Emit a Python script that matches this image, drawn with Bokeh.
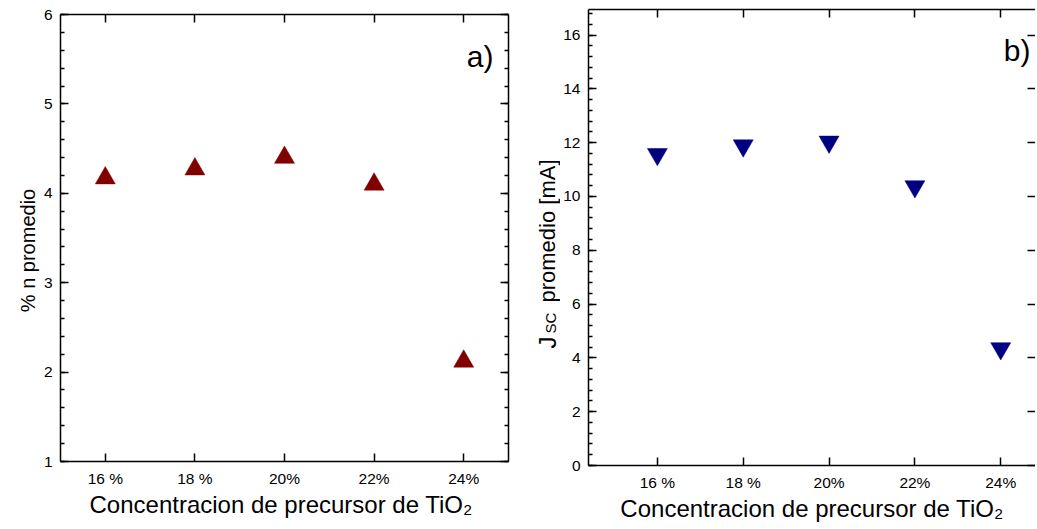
import math
from bokeh.plotting import figure
from bokeh.layouts import row
from bokeh.models import (LinearAxis, FixedTicker, SingleIntervalTicker, Label, Range1d,
                          CustomLabelingPolicy)
from bokeh.core.properties import value
from bokeh.embed import file_html
from bokeh.resources import INLINE

# ---- data ----
conc_x = [16, 18, 20, 22, 24]
conc_labels = ["16 %", "18 %", "20%", "22%", "24%"]
eficiencia = [4.17, 4.27, 4.40, 4.10, 2.12]        # % n promedio
jsc = [11.57, 11.89, 12.03, 10.37, 4.35]           # Jsc promedio [mA]

FONT = "Liberation Sans"
H = 527


def frame_axes(p, y_interval, right_line=True, right_minor=True):
    xt = FixedTicker(ticks=conc_x, minor_ticks=[])
    yt = SingleIntervalTicker(interval=y_interval, num_minor_ticks=5)
    overrides = {x: l for x, l in zip(conc_x, conc_labels)}

    xb = LinearAxis(ticker=xt, major_label_overrides=overrides)
    yl = LinearAxis(ticker=yt)
    xa = LinearAxis(ticker=xt)
    yr = LinearAxis(ticker=yt)
    for ax in (xb, yl, xa, yr):
        ax.axis_line_width = 1.5
        ax.axis_line_color = "black"
        ax.major_tick_line_width = 1.5
        ax.minor_tick_line_width = 1.5
        ax.major_tick_in = 8
        ax.major_tick_out = 0
        ax.minor_tick_in = 4
        ax.minor_tick_out = 0
        ax.major_label_text_font = FONT
        ax.major_label_text_font_size = "15.5px"
        ax.major_label_text_color = "black"
        ax.axis_label_text_font = FONT
        ax.axis_label_text_font_style = "normal"
        ax.axis_label_text_color = "black"
    for ax in (xa, yr):
        ax.major_label_text_font_size = "0px"
        ax.major_label_policy = CustomLabelingPolicy(code="return []")
        ax.major_label_standoff = 0
    if not right_line:
        yr.axis_line_color = None
    if not right_minor:
        yr.minor_tick_in = 0
        yr.minor_tick_line_color = None
    xb.major_label_standoff = 8
    yl.major_label_standoff = 8
    xb.axis_label_text_font_size = "24px"
    xb.axis_label_standoff = 1
    p.add_layout(xb, "below")
    p.add_layout(yl, "left")
    p.add_layout(xa, "above")
    p.add_layout(yr, "right")
    return xb


def label_strip(width):
    s = figure(width=width, height=H, output_backend="svg", toolbar_location=None,
               x_range=Range1d(0, width), y_range=Range1d(0, H),
               x_axis_location=None, y_axis_location=None, min_border=0,
               frame_align=False)
    s.outline_line_color = None
    s.xgrid.visible = False
    s.ygrid.visible = False
    return s


# ---- y label strip for panel a ----
s1 = label_strip(40)
s1.text(x=[27.6], y=[H - 250], text=["% n promedio"], angle=math.pi / 2,
        text_align="center", text_baseline="alphabetic",
        text_font=value(FONT), text_font_size=value("20px"), text_color="black")

# ---- panel a ----
p1 = figure(width=480, height=H, output_backend="svg", toolbar_location=None,
            x_range=Range1d(15, 25), y_range=Range1d(1, 6),
            x_axis_type=None, y_axis_type=None, frame_align=False,
            min_border_left=20, min_border_right=12, min_border_top=14, min_border_bottom=H - 461)
p1.outline_line_color = None
p1.xgrid.visible = False
p1.ygrid.visible = False
xb1 = frame_axes(p1, 1)
xb1.axis_label = "Concentracion de  precursor de TiO\u2082"
p1.scatter(conc_x, eficiencia, marker="triangle", size=20,
           fill_color="#800000", line_color="#800000", line_width=0.5)
p1.add_layout(Label(x=24.07, y=5.53, text="a)", text_align="left",
                    text_baseline="alphabetic", text_font=FONT,
                    text_font_size="30px", text_color="black"))

# ---- y label strip for panel b ----
s2 = label_strip(40)
s2.text(x=[27], y=[H - 348], text=["J"], angle=math.pi / 2,
        text_align="left", text_baseline="alphabetic",
        text_font=value(FONT), text_font_size=value("24px"), text_color="black")
s2.text(x=[30], y=[H - 333], text=["SC"], angle=math.pi / 2,
        text_align="left", text_baseline="alphabetic",
        text_font=value(FONT), text_font_size=value("15px"), text_color="black")
s2.text(x=[26.5], y=[H - 302], text=["promedio [mA]"], angle=math.pi / 2,
        text_align="left", text_baseline="alphabetic",
        text_font=value(FONT), text_font_size=value("22px"), text_color="black")

# ---- panel b ----
p2 = figure(width=475, height=H, output_backend="svg", toolbar_location=None,
            x_range=Range1d(14.395, 24.81), y_range=Range1d(0, 16.95),
            x_axis_type=None, y_axis_type=None, frame_align=False,
            min_border_left=27, min_border_right=0, min_border_top=9, min_border_bottom=H - 465)
p2.outline_line_color = None
p2.xgrid.visible = False
p2.ygrid.visible = False
xb2 = frame_axes(p2, 2, right_line=False, right_minor=False)
xb2.axis_label = "Concentracion de precursor de TiO\u2082"
p2.scatter(conc_x, jsc, marker="inverted_triangle", size=20,
           fill_color="#000080", line_color="#000080", line_width=0.5)
p2.add_layout(Label(x=24.07, y=15.43, text="b)", text_align="left",
                    text_baseline="alphabetic", text_font=FONT,
                    text_font_size="30px", text_color="black"))

layout = row(s1, p1, s2, p2)
open("out.html", "w").write(file_html(layout, INLINE))
